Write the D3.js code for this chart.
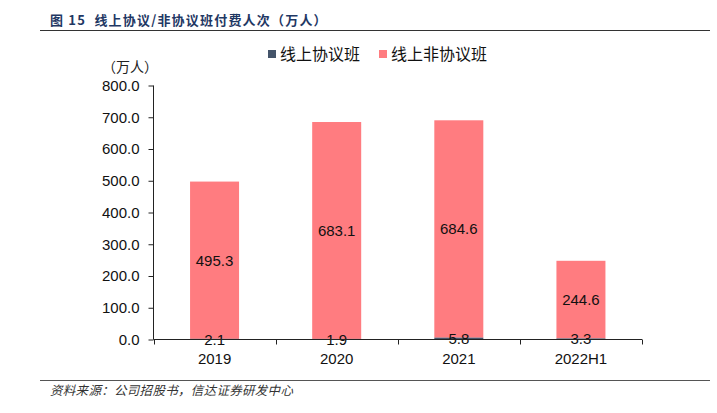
<!DOCTYPE html>
<html><head><meta charset="utf-8">
<script src="https://cdn.jsdelivr.net/npm/d3@7"></script>
<style>
body{margin:0;background:#fff;}
svg{display:block;}
</style></head>
<body>
<svg id="c" width="717" height="413"></svg>
<script>
const categories = ["2019", "2020", "2021", "2022H1"];
const seriesNames = ["线上协议班", "线上非协议班"];
const protocolValues = [2.1, 1.9, 5.8, 3.3];
const nonProtocolValues = [495.3, 683.1, 684.6, 244.6];
const yTicks = [0, 100, 200, 300, 400, 500, 600, 700, 800];
const colors = ["#44546A", "#FF7C80"];
const titleText = "图 15  线上协议/非协议班付费人次（万人）";
const unitText = "（万人）";
const sourceText = "资料来源：公司招股书，信达证券研发中心";

const svg = d3.select("#c");
const cjk = "'Noto Sans CJK SC', 'Liberation Sans', sans-serif";
const num = "'Liberation Sans', Arial, sans-serif";

// header
svg.append("text").attr("x", 50).attr("y", 25).attr("font-family", cjk)
  .attr("font-weight", "bold").attr("font-size", 13).attr("fill", "#1F3864")
  .attr("letter-spacing", 1.2)
  .attr("xml:space", "preserve").text(titleText);
svg.append("line").attr("x1", 40).attr("x2", 710).attr("y1", 30.5).attr("y2", 30.5)
  .attr("stroke", "#333").attr("stroke-width", 1);

// footer
svg.append("line").attr("x1", 40).attr("x2", 710).attr("y1", 380.5).attr("y2", 380.5)
  .attr("stroke", "#555").attr("stroke-width", 1);
svg.append("text").attr("x", 50).attr("y", 395).attr("font-family", cjk)
  .attr("font-style", "italic").attr("font-size", 12.5).attr("fill", "#333")
  .attr("letter-spacing", 0.3).text(sourceText);

const x = d3.scaleBand().domain(categories).range([153.5, 642]).paddingInner(0).paddingOuter(0);
const y = d3.scaleLinear().domain([0, 800]).range([339.5, 85.5]);
const barW = 49;

const stacked = categories.map((c, i) => ({
  cat: c,
  segs: [
    {k: 0, y0: 0, y1: protocolValues[i], v: protocolValues[i]},
    {k: 1, y0: protocolValues[i], y1: protocolValues[i] + nonProtocolValues[i], v: nonProtocolValues[i]}
  ]
}));

const g = svg.append("g");
stacked.forEach(d => {
  const cx = x(d.cat) + x.bandwidth() / 2;
  d.segs.slice().reverse().forEach(s => {
    g.append("rect").attr("x", cx - barW / 2).attr("width", barW)
      .attr("y", y(s.y1)).attr("height", Math.max(0, y(s.y0) - y(s.y1)))
      .attr("fill", colors[s.k]);
  });
});

// axes
const yAxis = d3.axisLeft(y).tickValues(yTicks).tickFormat(d3.format(".1f")).tickSize(5).tickPadding(9);
const ya = svg.append("g").attr("transform", "translate(153.5,0)").call(yAxis);
ya.select(".domain").attr("d", "M0,85.5V339.5").attr("stroke", "#222");
ya.selectAll(".tick line").attr("stroke", "#222");
ya.selectAll("text").attr("font-family", num).attr("font-size", 15).attr("fill", "#111");

const xa = svg.append("g").attr("transform", "translate(0,339.5)");
xa.append("line").attr("x1", 153.5).attr("x2", 642).attr("stroke", "#222");
const xTickPos = categories.map(c => x(c)).concat([x.range()[1]]);
xTickPos.forEach(p => {
  xa.append("line").attr("x1", Math.round(p) + 0.5).attr("x2", Math.round(p) + 0.5)
    .attr("y1", 0).attr("y2", 5).attr("stroke", "#222");
});
categories.forEach(c => {
  xa.append("text").attr("x", x(c) + x.bandwidth() / 2).attr("y", 24)
    .attr("text-anchor", "middle").attr("font-family", num).attr("font-size", 15)
    .attr("fill", "#111").text(c);
});

// data labels
stacked.forEach(d => {
  const cx = x(d.cat) + x.bandwidth() / 2;
  d.segs.forEach(s => {
    const my = (y(s.y0) + y(s.y1)) / 2;
    g.append("text").attr("x", cx).attr("y", my).attr("dy", "0.36em")
      .attr("text-anchor", "middle").attr("font-family", num).attr("font-size", 15)
      .attr("fill", "#111").text(s.v.toFixed(1));
  });
});

// unit label
svg.append("text").attr("x", 130).attr("y", 72).attr("text-anchor", "middle")
  .attr("font-family", cjk).attr("font-size", 14).attr("fill", "#222").text(unitText);

// legend
const legX = [268, 379];
seriesNames.forEach((n, i) => {
  svg.append("rect").attr("x", legX[i]).attr("y", 50).attr("width", 8).attr("height", 8).attr("fill", colors[i]);
  svg.append("text").attr("x", legX[i] + 12).attr("y", 60).attr("font-family", cjk)
    .attr("font-size", 16).attr("fill", "#111").text(n);
});
</script>
</body></html>
